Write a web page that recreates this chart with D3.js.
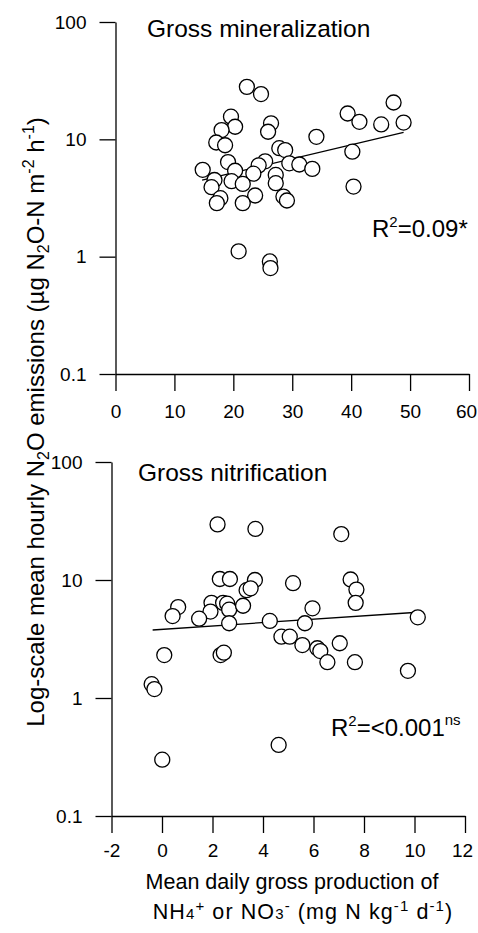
<!DOCTYPE html>
<html>
<head>
<meta charset="utf-8">
<script src="https://cdn.jsdelivr.net/npm/d3@7"></script>
<style>
  body { margin: 0; background: #fff; }
  svg { display: block; font-family: "Liberation Sans", Arial, sans-serif; }
  .tick text { font-size: 19px; fill: #000; }
  .tick line, .domain { stroke: #000; stroke-width: 1.3; }
</style>
</head>
<body>
<svg id="chart" width="478" height="933"></svg>
<script>
// --- data ---
const yTicks = [0.1, 1, 10, 100];
const mineralTicks = [0, 10, 20, 30, 40, 50, 60];
const nitrifTicks = [-2, 0, 2, 4, 6, 8, 10, 12];

// gross mineralization (mg N kg-1 d-1) vs N2O (ug N2O-N m-2 h-1)
const mineralX = [22.3, 24.7, 19.6, 20.3, 18.0, 26.4, 25.9, 34.1, 17.1, 18.6, 27.8, 28.8, 19.1, 25.4, 24.3,
    29.5, 31.2, 33.4, 14.8, 20.3, 23.4, 27.2, 16.8, 19.7, 21.6, 27.2, 16.3, 17.8, 17.2, 23.7, 21.6, 28.5,
    29.1, 39.4, 41.4, 47.2, 45.1, 48.9, 40.2, 40.4, 20.9, 26.2, 26.3];
const mineralY = [28.0, 24.3, 15.6, 12.8, 12.0, 13.7, 11.6, 10.5, 9.4, 8.9, 8.4, 8.1, 6.4, 6.5, 6.0,
    6.25, 6.1, 5.6, 5.5, 5.4, 5.1, 4.97, 4.5, 4.4, 4.17, 4.23, 3.91, 3.15, 2.86, 3.32, 2.86, 3.25,
    3.01, 16.6, 14.1, 20.6, 13.4, 13.9, 7.85, 3.96, 1.11, 0.91, 0.80];
const mineralFitX = [14.7, 48.9];
const mineralFitY = [4.49, 11.47];

// gross nitrification
const nitrifX = [2.20, 3.70, 7.10, 2.29, 2.69, 3.68, 5.19, 7.47, 7.70, 7.67, 3.35, 3.51, 0.64, 0.42, 1.96,
    2.42, 2.58, 1.92, 2.66, 3.21, 1.47, 2.66, 4.27, 5.96, 5.66, 10.13, 4.73, 5.06, 5.56, 6.15, 6.27,
    6.55, 7.04, 7.64, 9.74, 0.09, 2.32, 2.45, -0.41, -0.30, 4.62, 0.01];
const nitrifY = [29.6, 27.1, 24.5, 10.2, 10.2, 10.0, 9.4, 10.1, 8.3, 6.4, 8.2, 8.5, 5.9, 4.95, 6.4,
    6.4, 6.3, 5.4, 5.6, 6.05, 4.7, 4.3, 4.5, 5.75, 4.3, 4.83, 3.31, 3.31, 2.81, 2.64, 2.50,
    2.01, 2.91, 2.01, 1.70, 2.31, 2.31, 2.42, 1.31, 1.19, 0.40, 0.30];
const nitrifFitX = [-0.37, 10.13];
const nitrifFitY = [3.77, 5.33];

const svg = d3.select('#chart');

const panels = [
    { xs: mineralX, ys: mineralY, fx: mineralFitX, fy: mineralFitY, ticks: mineralTicks,
      x: d3.scaleLinear([0, 60], [115.5, 469]), y: d3.scaleLog([0.1, 100], [374, 22]), pad: 14,
      title: 'Gross mineralization', tx: 147, ty: 37, r2: '0.09*', r2x: 372, r2y: 237, sup: '' },
    { xs: nitrifX, ys: nitrifY, fx: nitrifFitX, fy: nitrifFitY, ticks: nitrifTicks,
      x: d3.scaleLinear([-2, 12], [111.5, 465]), y: d3.scaleLog([0.1, 100], [816, 462]), pad: 11,
      title: 'Gross nitrification', tx: 138, ty: 481, r2: '<0.001', r2x: 331, r2y: 736, sup: 'ns' }
];

panels.forEach(p => {
    const g = svg.append('g');
    const x0 = p.x.range()[0];
    const yb = p.y.range()[0];

    g.append('g')
        .attr('transform', `translate(${x0},0)`)
        .call(d3.axisLeft(p.y).tickValues(yTicks).tickFormat(d => String(d))
            .tickSize(16).tickSizeOuter(0).tickPadding(13));

    const xa = g.append('g')
        .attr('transform', `translate(0,${yb})`)
        .call(d3.axisBottom(p.x).tickValues(p.ticks).tickFormat(d => String(d))
            .tickSize(17).tickSizeOuter(0).tickPadding(p.pad));
    // last label sits against the page edge in the original
    xa.selectAll('.tick:last-of-type text').attr('dx', -3);

    // regression line, drawn under the markers
    g.append('line')
        .attr('x1', p.x(p.fx[0])).attr('y1', p.y(p.fy[0]))
        .attr('x2', p.x(p.fx[1])).attr('y2', p.y(p.fy[1]))
        .attr('stroke', '#000').attr('stroke-width', 1.3);

    g.selectAll('circle')
        .data(d3.range(p.xs.length))
        .join('circle')
        .attr('cx', i => p.x(p.xs[i]))
        .attr('cy', i => p.y(p.ys[i]))
        .attr('r', 7.5)
        .attr('fill', '#fff')
        .attr('stroke', '#000')
        .attr('stroke-width', 1.3);

    g.append('text')
        .attr('x', p.tx).attr('y', p.ty)
        .attr('font-size', 24.5)
        .text(p.title);

    const r2 = g.append('text')
        .attr('x', p.r2x).attr('y', p.r2y)
        .attr('font-size', 24);
    r2.append('tspan').text('R');
    r2.append('tspan').attr('font-size', 15).attr('dy', -10).text('2');
    r2.append('tspan').attr('dy', 10).text('=' + p.r2);
    if (p.sup) r2.append('tspan').attr('font-size', 15).attr('dy', -11).text(p.sup);
});

// y axis title
const yt = svg.append('text')
    .attr('transform', 'translate(44,422) rotate(-90)')
    .attr('text-anchor', 'middle')
    .attr('font-size', 24);
yt.append('tspan').text('Log-scale mean hourly N');
yt.append('tspan').attr('font-size', 16).attr('dy', 5).text('2');
yt.append('tspan').attr('dy', -5).text('O emissions (µg N');
yt.append('tspan').attr('font-size', 16).attr('dy', 5).text('2');
yt.append('tspan').attr('dy', -5).text('O-N m');
yt.append('tspan').attr('font-size', 16).attr('dy', -10).text('-2');
yt.append('tspan').attr('dy', 10).text(' h');
yt.append('tspan').attr('font-size', 16).attr('dy', -10).text('-1');
yt.append('tspan').attr('dy', 10).text(')');

// x axis title (shared)
svg.append('text')
    .attr('x', 292).attr('y', 889)
    .attr('text-anchor', 'middle')
    .attr('font-size', 21.5)
    .text('Mean daily gross production of');

const xt = svg.append('text')
    .attr('x', 303).attr('y', 919)
    .attr('text-anchor', 'middle')
    .attr('font-size', 21.5)
    .attr('letter-spacing', 1.1);
xt.append('tspan').text('NH');
xt.append('tspan').attr('font-size', 15).text('4');
xt.append('tspan').attr('font-size', 15).attr('dy', -8).text('+');
xt.append('tspan').attr('dy', 8).text(' or NO');
xt.append('tspan').attr('font-size', 15).text('3');
xt.append('tspan').attr('font-size', 15).attr('dy', -8).text('-');
xt.append('tspan').attr('dy', 8).text(' (mg N kg');
xt.append('tspan').attr('font-size', 15).attr('dy', -8).text('-1');
xt.append('tspan').attr('dy', 8).text(' d');
xt.append('tspan').attr('font-size', 15).attr('dy', -8).text('-1');
xt.append('tspan').attr('dy', 8).text(')');
</script>
</body>
</html>
